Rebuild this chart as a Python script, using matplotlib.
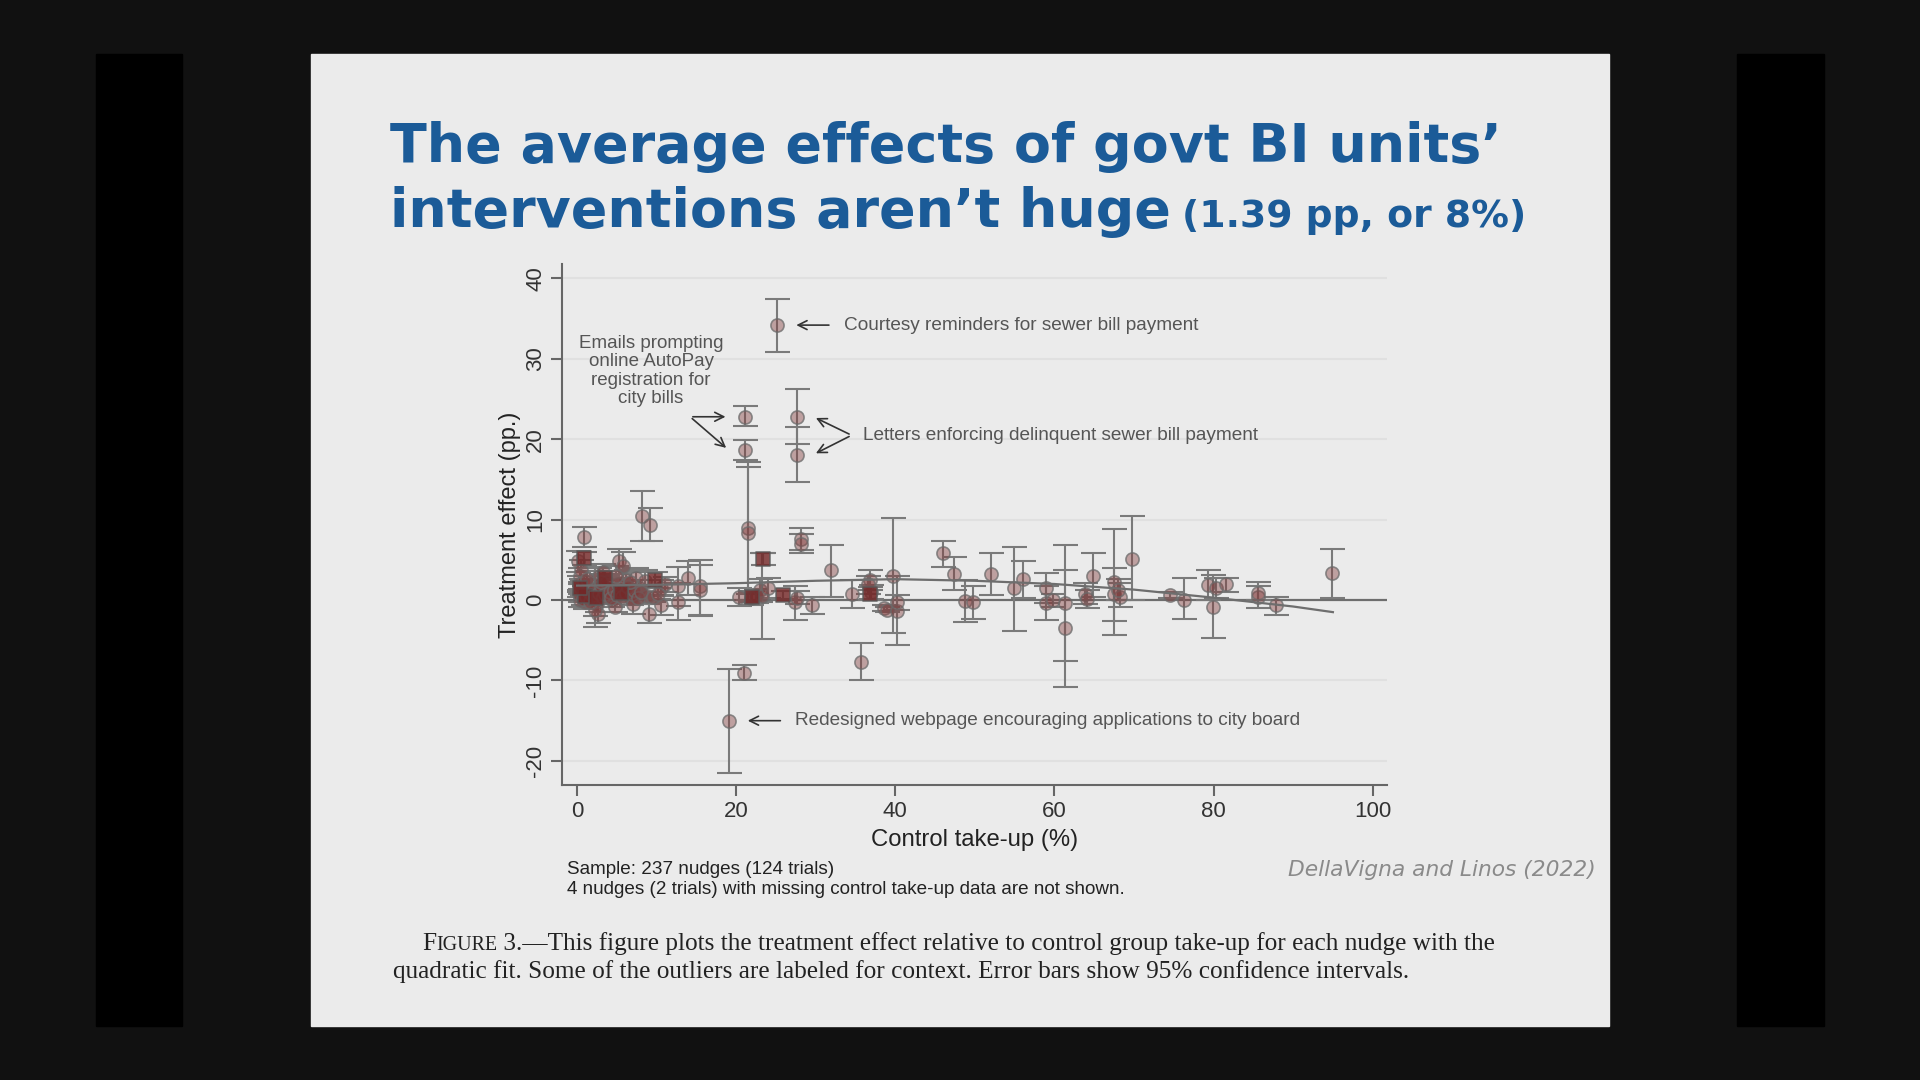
import numpy as np
import matplotlib.pyplot as plt
from matplotlib.patches import Rectangle

plt.rcParams['axes.unicode_minus'] = False

# nudges: control take-up (%), effect (pp), 95% CI
circ_x = [25.1, 21.1, 21.1, 27.7, 27.7, 21.5, 21.5, 19.1, 21.0, 35.7,
          8.2, 9.2, 0.9, 28.2, 28.2, 31.9, 34.6, 36.8, 38.6, 39.0,
          39.7, 40.2, 40.2, 46.0, 47.4, 48.7, 49.8, 52.0, 54.9, 56.1,
          59.0, 59.0, 59.8, 61.3, 61.3, 63.8, 64.1, 64.9, 67.5, 67.5,
          68.2, 68.0, 69.8, 74.5, 76.3, 79.3, 79.9, 80.3, 81.6, 85.6,
          85.6, 87.8, 94.9,
          20.3, 21.8, 22.5, 23.0, 23.3, 24.0, 27.4, 27.6, 29.5, 37.0, 36.6,
          0.1, 0.3, 0.2, 0.5, 0.4, 0.8, 1.0, 1.2, 0.6, 0.3,
          1.7, 2.0, 2.3, 2.5, 2.6, 2.8, 2.2,
          3.3, 3.6, 4.0, 4.4, 4.8,
          5.3, 5.8, 6.2, 6.0, 6.5, 6.8, 7.0,
          7.4, 7.8, 8.5, 9.0, 8.8,
          10.6, 10.5, 11.0,
          12.7, 12.7, 14.0, 15.4, 15.4,
          0.2, 0.4, 0.7, 0.9, 1.1, 1.4, 1.6, 1.9, 2.1, 2.4,
          2.7, 3.0, 3.2, 3.5, 3.8, 4.1, 4.3, 4.6, 5.0, 5.2,
          5.5, 5.7, 6.1, 6.4, 6.9, 7.2, 7.6, 8.0, 9.5, 10.2,
          0.5, 1.3, 3.0, 4.9, 6.6]
circ_y = [34.2, 22.8, 18.7, 22.8, 18.1, 9.0, 8.3, -15.0, -9.1, -7.7,
          10.5, 9.3, 7.9, 7.6, 7.0, 3.7, 0.8, 2.5, -1.0, -1.2,
          3.0, -1.3, -0.3, 5.8, 3.3, -0.1, -0.2, 3.2, 1.5, 2.6,
          1.5, -0.4, 0.0, -0.4, -3.5, 0.8, 0.1, 3.0, 2.3, 0.8,
          0.4, 1.3, 5.1, 0.6, 0.0, 1.9, -0.8, 1.5, 2.0, 0.4,
          0.9, -0.6, 3.4,
          0.4, 0.2, 0.5, 1.2, 0.5, 1.5, -0.2, 0.3, -0.6, 1.0, 2.0,
          4.8, 3.0, 2.0, 1.2, 0.6, 0.2, -0.3, 0.9, 1.5, 0.0,
          2.0, 1.0, 0.3, -0.5, -1.7, 3.0, -1.2,
          3.5, 1.5, 0.5, 0.0, -0.8,
          4.8, 4.2, 2.5, 1.5, 0.8, 0.2, -0.5,
          2.8, 1.5, 2.4, -1.7, 0.5,
          -0.6, 1.5, 2.0,
          1.7, -0.2, 2.7, 1.7, 1.2,
          0.8, 1.6, 0.1, 2.4, 0.5, 1.1, -0.2, 0.6, 1.4, 0.2,
          0.9, 1.8, 0.4, 0.8, 2.2, 1.0, 0.3, 1.3, 0.6, 2.0,
          1.1, 0.4, 0.9, 1.6, 0.7, 1.2, 0.2, 1.0, 0.4, 0.8,
          3.8, 2.6, 2.2, 3.0, 2.3]
circ_lo = [30.8, 21.6, 17.4, 19.4, 14.7, 0.8, 0.0, -21.5, -10.0, -10.0,
           7.3, 7.3, 6.6, 6.2, 5.9, 0.4, -1.0, 1.3, -1.4, -1.5,
           -4.1, -5.6, -1.2, 4.1, 1.2, -2.7, -2.3, 0.6, -3.8, 0.2,
           -0.4, -2.5, -0.8, -7.6, -10.8, -0.5, -1.0, 0.4, -4.3, -2.6,
           -0.8, 0.0, 0.0, 0.2, -2.3, 0.0, -4.7, 0.2, 1.0, -1.0,
           0.0, -1.8, 0.3,
           -0.7, -0.6, -0.4, -0.2, -4.9, 0.3, -2.5, -0.5, -1.7, 0.1, 0.8,
           3.5, 2.0, 1.0, 0.4, -0.2, -0.6, -1.1, 0.1, 0.5, -0.8,
           1.0, 0.0, -3.3, -1.5, -2.9, 2.0, -2.0,
           2.5, 0.5, -0.5, -0.8, -1.5,
           3.3, 2.5, 1.3, 0.5, -0.2, -0.6, -1.7,
           1.6, 0.5, 1.0, -2.9, -0.5,
           -1.8, 0.5, 1.0,
           -0.7, -2.5, 0.6, -1.9, -2.0,
           0.4, 1.0, -0.3, 1.8, 0.1, 0.6, -0.7, 0.1, 0.8, -0.3,
           0.4, 1.1, -0.1, 0.2, 1.4, 0.4, -0.2, 0.6, 0.1, 1.2,
           0.5, -0.1, 0.3, 0.8, 0.1, 0.5, -0.4, 0.3, -0.2, 0.1,
           2.6, 1.6, 1.2, 1.8, 1.1]
circ_hi = [37.5, 24.1, 19.9, 26.2, 21.5, 17.2, 16.6, -8.6, -8.1, -5.4,
           13.6, 11.5, 9.1, 9.0, 8.2, 6.9, 2.5, 3.7, -0.6, -0.8,
           10.2, 3.0, 0.6, 7.3, 5.4, 2.5, 1.7, 5.8, 6.6, 4.9,
           3.4, 1.7, 0.8, 6.8, 3.7, 2.1, 1.2, 5.8, 8.9, 4.0,
           2.1, 2.6, 10.4, 1.0, 2.7, 3.8, 3.1, 2.8, 2.7, 2.3,
           1.8, 0.4, 6.3,
           1.5, 1.0, 1.4, 2.6, 5.9, 2.7, 1.7, 1.1, 0.4, 1.9, 3.0,
           6.1, 4.0, 3.0, 2.0, 1.4, 1.0, 0.5, 1.7, 2.5, 0.8,
           3.0, 2.0, 4.1, 0.5, -0.5, 4.0, -0.4,
           4.5, 2.5, 1.5, 0.8, 0.0,
           6.3, 6.0, 3.7, 2.5, 1.8, 1.0, 0.7,
           4.0, 2.5, 3.8, -0.5, 1.5,
           0.6, 2.5, 2.9,
           4.1, 2.1, 4.8, 5.0, 4.4,
           1.2, 2.2, 0.5, 3.0, 0.9, 1.6, 0.3, 1.1, 2.0, 0.7,
           1.4, 2.5, 0.9, 1.4, 3.0, 1.6, 0.8, 2.0, 1.1, 2.8,
           1.7, 0.9, 1.5, 2.4, 1.3, 1.9, 0.8, 1.7, 1.0, 1.5,
           5.0, 3.6, 3.2, 4.2, 3.5]

sq_x = [0.9, 23.4, 25.9, 36.8, 22.0, 9.8, 3.5, 1.0, 0.3, 2.4, 5.5]
sq_y = [5.2, 5.1, 0.6, 0.8, 0.4, 2.5, 2.8, 0.5, 1.5, 0.2, 0.9]
sq_lo = [4.4, 4.4, 0.1, 0.0, -0.3, 1.5, 2.0, -0.2, 0.9, -0.4, 0.3]
sq_hi = [6.0, 5.8, 1.1, 1.6, 1.1, 3.5, 3.6, 1.2, 2.1, 0.8, 1.5]

# quadratic fit curve
fit_x = [0, 10, 20, 30, 40, 50, 60, 70, 80, 90, 95]
fit_y = [1.8, 1.9, 2.1, 2.4, 2.6, 2.4, 2.0, 1.3, 0.3, -0.8, -1.5]

W, H = 1920, 1080
fig = plt.figure(figsize=(19.2, 10.8), dpi=100, facecolor='#111111')

def fx(px):
    return px / W

def fy(py):
    return 1 - py / H

# slide and side bars
fig.add_artist(Rectangle((fx(96), fy(1026)), fx(86), 972 / H, transform=fig.transFigure, color='black', zorder=0))
fig.add_artist(Rectangle((fx(1737), fy(1026)), fx(87), 972 / H, transform=fig.transFigure, color='black', zorder=0))
fig.add_artist(Rectangle((fx(311), fy(1026)), fx(1298), 972 / H, transform=fig.transFigure, color='#ebebeb', zorder=0))

ax = fig.add_axes([fx(562), fy(785), fx(825), (785 - 264) / H])
ax.set_facecolor('none')

grey = '#7a7a7a'
ax.errorbar(circ_x, circ_y, yerr=[np.array(circ_y) - np.array(circ_lo), np.array(circ_hi) - np.array(circ_y)],
            fmt='none', ecolor=grey, elinewidth=1.5, capsize=9, capthick=1.5, zorder=2)
ax.errorbar(sq_x, sq_y, yerr=[np.array(sq_y) - np.array(sq_lo), np.array(sq_hi) - np.array(sq_y)],
            fmt='none', ecolor=grey, elinewidth=1.5, capsize=9, capthick=1.5, zorder=2)
ax.scatter(circ_x, circ_y, s=90, marker='o', facecolor=(0.5, 0.22, 0.22, 0.42),
           edgecolor=(0.42, 0.42, 0.42, 0.75), linewidth=1.2, zorder=3)
ax.scatter(sq_x, sq_y, s=90, marker='s', facecolor=(0.45, 0.15, 0.15, 0.8),
           edgecolor=(0.35, 0.35, 0.35, 0.8), linewidth=1.2, zorder=3)

ax.axhline(0, color='#6e6e6e', lw=1.6, zorder=1)
ax.plot(fit_x, fit_y, color='#6e6e6e', lw=1.6, zorder=4)

ax.set_xlim(-1.9, 101.8)
ax.set_ylim(-23.0, 41.8)
ax.set_xticks([0, 20, 40, 60, 80, 100])
ax.set_yticks([-20, -10, 0, 10, 20, 30, 40])
for v in [-20, -10, 10, 20, 30, 40]:
    ax.axhline(v, color='#e0e0e0', lw=1.5, zorder=0)
for s in ['top', 'right']:
    ax.spines[s].set_visible(False)
for s in ['left', 'bottom']:
    ax.spines[s].set_color('#666666')
    ax.spines[s].set_linewidth(1.5)
ax.tick_params(axis='both', colors='#666666', width=1.5, length=8, labelsize=16, labelcolor='#333333')
ax.tick_params(axis='y', labelrotation=90)
for lab in ax.get_yticklabels():
    lab.set_va('center')
ax.set_xlabel('Control take-up (%)', fontsize=17.2, color='#222222', family='Liberation Sans', labelpad=5)
ax.set_ylabel('Treatment effect (pp.)', fontsize=17, color='#222222', family='Liberation Sans', labelpad=3)
for lab in ax.get_xticklabels() + ax.get_yticklabels():
    lab.set_family('Liberation Sans')

# annotations
acol = '#555555'
aprops = dict(arrowstyle='->', color='#333333', lw=1.2, mutation_scale=16)
ax.annotate('', xy=(27.2, 34.2), xytext=(32.0, 34.2), arrowprops=aprops)
ax.text(33.5, 34.2, 'Courtesy reminders for sewer bill payment', fontsize=13.7, color=acol,
        va='center', family='Liberation Sans')
ax.annotate('', xy=(19.0, 22.8), xytext=(14.2, 22.8), arrowprops=aprops)
ax.annotate('', xy=(19.0, 18.7), xytext=(14.2, 22.8), arrowprops=aprops)
ax.text(9.3, 28.5, 'Emails prompting\nonline AutoPay\nregistration for\ncity bills', fontsize=13.5,
        color=acol, ha='center', va='center', linespacing=1.12, family='Liberation Sans')
ax.annotate('', xy=(29.7, 22.8), xytext=(34.5, 20.5), arrowprops=aprops)
ax.annotate('', xy=(29.7, 18.1), xytext=(34.5, 20.5), arrowprops=aprops)
ax.text(35.9, 20.5, 'Letters enforcing delinquent sewer bill payment', fontsize=13.7, color=acol,
        va='center', family='Liberation Sans')
ax.annotate('', xy=(21.1, -15.0), xytext=(25.9, -15.0), arrowprops=aprops)
ax.text(27.4, -15.0, 'Redesigned webpage encouraging applications to city board', fontsize=13.7,
        color=acol, va='center', family='Liberation Sans')

# notes under the plot
fig.text(fx(567), fy(869.5), 'Sample: 237 nudges (124 trials)', fontsize=13.6, color='#222222',
         family='Liberation Sans', va='center')
fig.text(fx(567), fy(889.5), '4 nudges (2 trials) with missing control take-up data are not shown.',
         fontsize=13.6, color='#222222', family='Liberation Sans', va='center')
fig.text(fx(1596), fy(869.5), 'DellaVigna and Linos (2022)', fontsize=15.7, color='#8a8a8a',
         family='DejaVu Sans', style='italic', ha='right', va='center')

renderer = fig.canvas.get_renderer()

def run(x_px, y_px, parts):
    for txt, size, kw in parts:
        t = fig.text(fx(x_px), fy(y_px), txt, fontsize=size, va='baseline', **kw)
        x_px += t.get_window_extent(renderer).width

blue = '#1b5b98'
tkw = dict(color=blue, family='DejaVu Sans', weight='bold')
run(390, 162, [('The average effects of govt BI units\u2019', 38.8, tkw)])
run(390, 227, [('interventions aren\u2019t huge', 38.8, tkw), ('\u2009', 38.8, tkw),
               ('(1.39 pp, or 8%)', 27.2, tkw)])

ckw = dict(color='#222222', family='Liberation Serif')
run(422, 950, [('F', 18.2, ckw), ('IGURE', 14.4, ckw),
               (' 3.\u2014This figure plots the treatment effect relative to control group take-up for each nudge with the', 18.2, ckw)])
run(393, 978, [('quadratic fit. Some of the outliers are labeled for context. Error bars show 95% confidence intervals.', 18.2, ckw)])

fig.savefig('out.png', dpi=100, facecolor=fig.get_facecolor())
